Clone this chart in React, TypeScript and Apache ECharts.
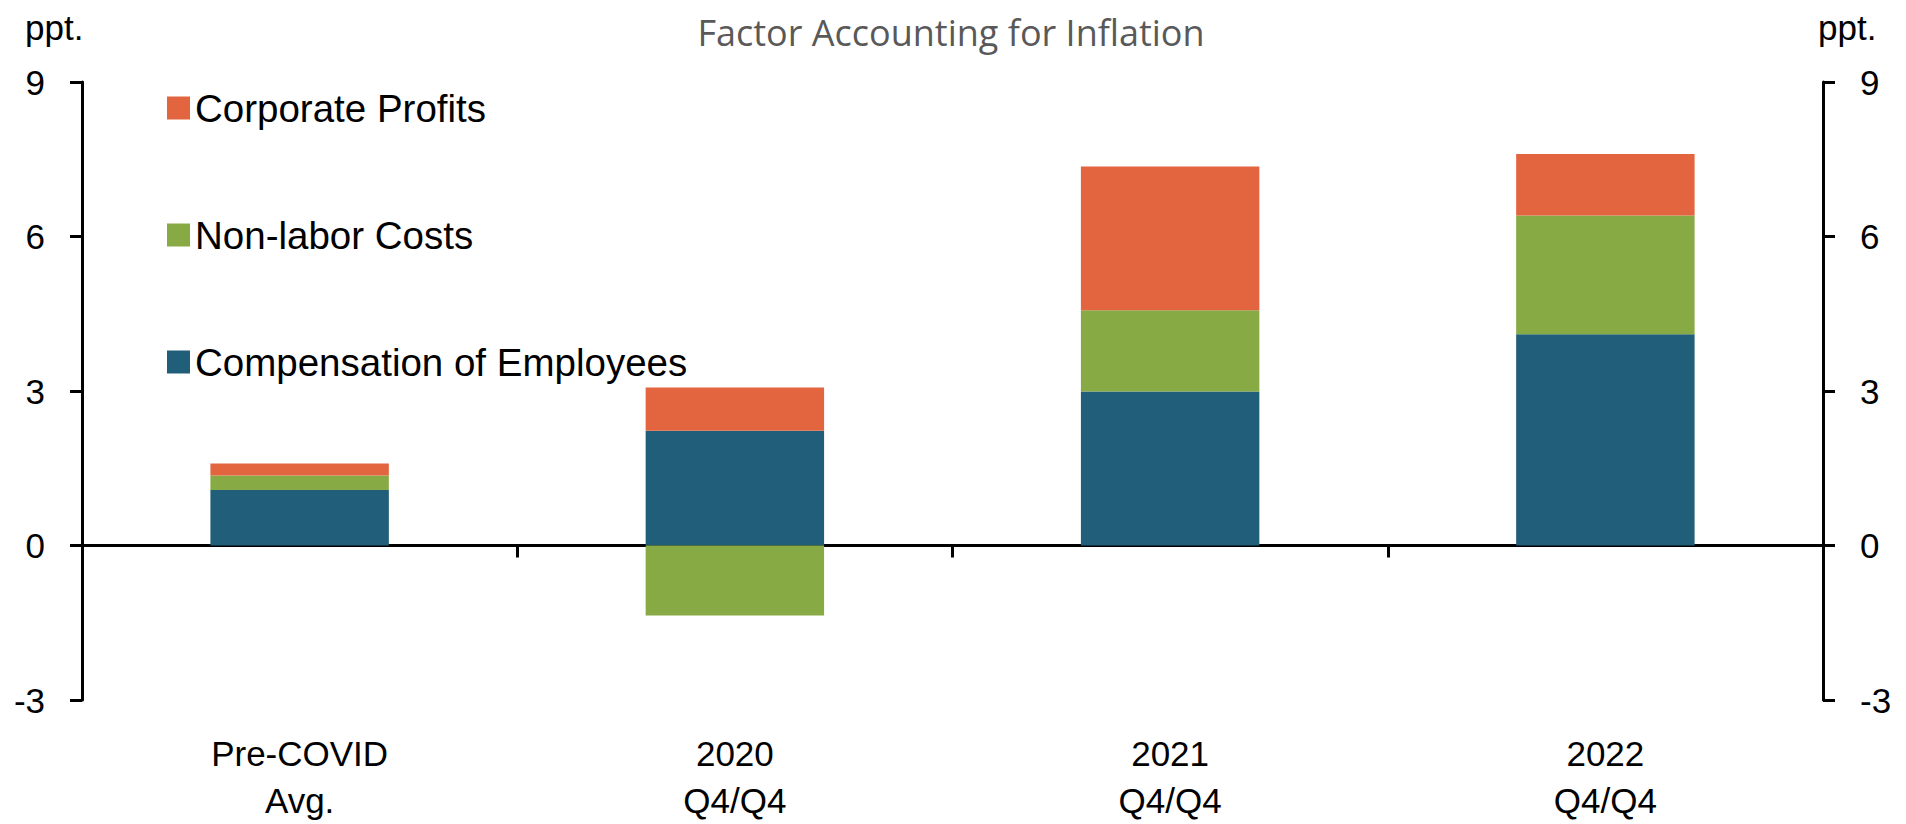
import React, { useEffect, useRef } from "react";
import * as echarts from "echarts";

const categories = ["Pre-COVID\nAvg.", "2020\nQ4/Q4", "2021\nQ4/Q4", "2022\nQ4/Q4"];
const compensation = [1.08, 2.23, 2.99, 4.1];
const nonLabor = [0.28, -1.36, 1.58, 2.31];
const profits = [0.23, 0.84, 2.79, 1.19];
const seriesNames = ["Compensation of Employees", "Non-labor Costs", "Corporate Profits"];
const legendOrder = ["Corporate Profits", "Non-labor Costs", "Compensation of Employees"];
const colors = ["#215E79", "#88AA45", "#E2653F"];
const title = "Factor Accounting for Inflation";
const unitLabel = "ppt.";

const FONT = "Liberation Sans, Arial, sans-serif";

export default function App() {
  const ref = useRef<HTMLDivElement>(null);
  useEffect(() => {
    if (!ref.current) return;
    const chart = echarts.init(ref.current, null, { renderer: "svg" });
    const yAxisBase = {
      type: "value",
      min: -3,
      max: 9,
      interval: 3,
      splitLine: { show: false },
      axisLine: { show: true, onZero: false, lineStyle: { color: "#000", width: 3 } },
      axisTick: { show: true, length: 12, lineStyle: { color: "#000", width: 3 } },
      axisLabel: { color: "#000", fontSize: 35, fontFamily: FONT, margin: 37 },
    };
    const data = [compensation, nonLabor, profits];
    chart.setOption({
      animation: false,
      backgroundColor: "#fff",
      title: {
        text: title,
        left: 946,
        textAlign: "center",
        top: 9,
        textStyle: { fontFamily: "Open Sans", fontWeight: "normal", fontSize: 36, color: "#595959" },
      },
      graphic: [
        { type: "text", left: 25, top: 10, style: { text: unitLabel, fontSize: 35, fontFamily: FONT, fill: "#000" } },
        { type: "text", left: 1818, top: 10, style: { text: unitLabel, fontSize: 35, fontFamily: FONT, fill: "#000" } },
      ],
      legend: {
        data: legendOrder,
        orient: "vertical",
        left: 162,
        top: 83,
        itemWidth: 23,
        itemHeight: 23,
        itemGap: 87,
        icon: "rect",
        textStyle: { fontSize: 38.5, fontFamily: FONT, color: "#000", lineHeight: 40 },
      },
      grid: { left: 82, right: 83, top: 82, bottom: 122, containLabel: false },
      xAxis: [
        {
          type: "category",
          data: categories,
          position: "bottom",
          axisLine: { show: false, onZero: false },
          axisTick: { show: false },
          axisLabel: { color: "#000", fontSize: 35, fontFamily: FONT, lineHeight: 47, margin: 30 },
        },
        {
          type: "category",
          data: categories,
          position: "bottom",
          axisLine: { show: true, onZero: true, lineStyle: { color: "#000", width: 3 } },
          axisTick: { show: true, length: 12, lineStyle: { color: "#000", width: 3 } },
          axisLabel: { show: false },
        },
      ],
      yAxis: [
        { ...yAxisBase, position: "left" },
        { ...yAxisBase, position: "right" },
      ],
      series: seriesNames.map((name, i) => ({
        name,
        type: "bar",
        stack: "total",
        xAxisIndex: 0,
        yAxisIndex: 0,
        barCategoryGap: "59%",
        itemStyle: { color: colors[i] },
        data: data[i],
        z: 1,
      })),
    });
    return () => chart.dispose();
  }, []);
  return (
    <div
      ref={ref}
      style={{ position: "absolute", left: 0, top: 0, width: 1906, height: 824 }}
    />
  );
}
